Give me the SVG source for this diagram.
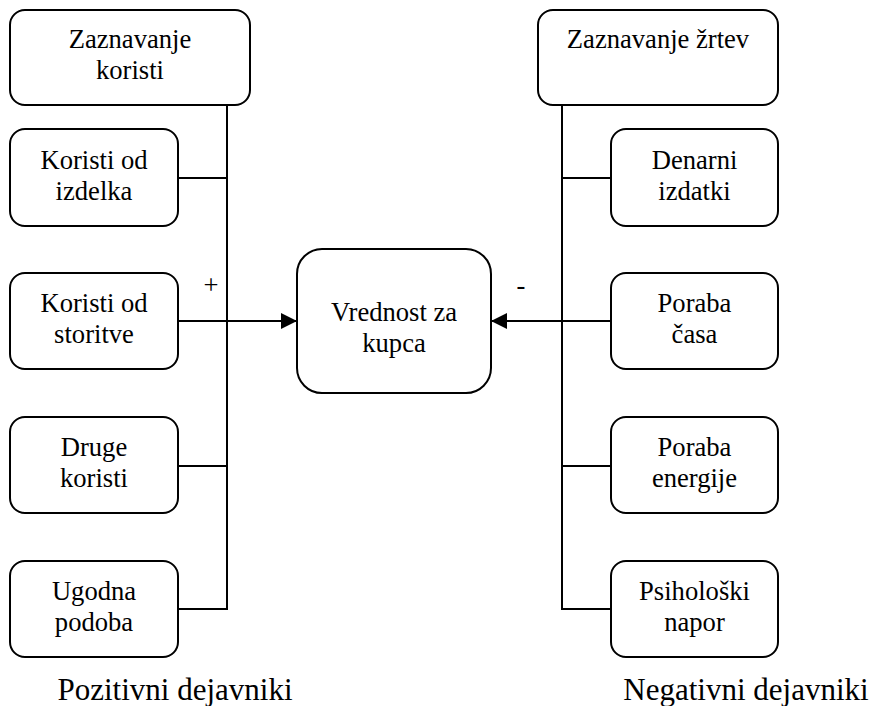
<svg xmlns="http://www.w3.org/2000/svg" width="880" height="706" viewBox="0 0 880 706">
<defs>
<style>
.box{fill:#fff;stroke:#000;stroke-width:2}
.t{font-family:'Liberation Serif','Times New Roman','DejaVu Serif',serif;font-size:26.6px;fill:#000;text-anchor:middle}
.lbl{font-family:'Liberation Serif','Times New Roman','DejaVu Serif',serif;font-size:31px;fill:#000;text-anchor:middle}
.ln{fill:none;stroke:#000;stroke-width:2}
</style>
<marker id="ah" markerWidth="16" markerHeight="16" viewBox="0 0 16 16" refX="16" refY="8" orient="auto" markerUnits="userSpaceOnUse">
<path d="M0,0 L16,8 L0,16 Z" fill="#000"/>
</marker>
</defs>
<rect width="880" height="706" fill="#fff"/>
<g id="connectors">
<path class="ln" d="M227,105 V609 H178"/>
<path class="ln" d="M178,178 H227"/>
<path class="ln" d="M178,466 H227"/>
<path class="ln" d="M178,321 H297" marker-end="url(#ah)"/>
<path class="ln" d="M562,105 V609 H611"/>
<path class="ln" d="M562,178 H611"/>
<path class="ln" d="M562,466 H611"/>
<path class="ln" d="M611,321 H491" marker-end="url(#ah)"/>
<text class="t" x="211" y="294" font-family="Liberation Serif, serif">+</text>
<text class="t" x="521" y="294" font-family="Liberation Serif, serif">-</text>
</g>
<g id="zaznavanje-koristi" font-family="Liberation Serif, serif">
<rect class="box" x="10" y="10" width="240" height="95" rx="15"/>
<text class="t" x="130" y="48">Zaznavanje</text>
<text class="t" x="130" y="79">koristi</text>
</g>
<g id="koristi-izdelka">
<rect class="box" x="10" y="129" width="168" height="97" rx="15"/>
<text class="t" x="94" y="168.5">Koristi od</text>
<text class="t" x="94" y="199.5">izdelka</text>
</g>
<g id="koristi-storitve">
<rect class="box" x="10" y="273" width="168" height="96" rx="15"/>
<text class="t" x="94" y="312">Koristi od</text>
<text class="t" x="94" y="343">storitve</text>
</g>
<g id="druge-koristi">
<rect class="box" x="10" y="417" width="168" height="96" rx="15"/>
<text class="t" x="94" y="456">Druge</text>
<text class="t" x="94" y="487">koristi</text>
</g>
<g id="ugodna-podoba">
<rect class="box" x="10" y="561" width="168" height="96" rx="15"/>
<text class="t" x="94" y="600">Ugodna</text>
<text class="t" x="94" y="631">podoba</text>
</g>
<g id="vrednost">
<rect class="box" x="297" y="249" width="194" height="144" rx="25"/>
<text class="t" x="394" y="321">Vrednost za</text>
<text class="t" x="394" y="352">kupca</text>
</g>
<g id="zaznavanje-zrtev">
<rect class="box" x="538" y="10" width="240" height="95" rx="15"/>
<text class="t" x="658" y="48">Zaznavanje žrtev</text>
</g>
<g id="denarni-izdatki">
<rect class="box" x="611" y="129" width="167" height="97" rx="15"/>
<text class="t" x="694.5" y="168.5">Denarni</text>
<text class="t" x="694.5" y="199.5">izdatki</text>
</g>
<g id="poraba-casa">
<rect class="box" x="611" y="273" width="167" height="96" rx="15"/>
<text class="t" x="694.5" y="312">Poraba</text>
<text class="t" x="694.5" y="343">časa</text>
</g>
<g id="poraba-energije">
<rect class="box" x="611" y="417" width="167" height="96" rx="15"/>
<text class="t" x="694.5" y="456">Poraba</text>
<text class="t" x="694.5" y="487">energije</text>
</g>
<g id="psiholoski-napor">
<rect class="box" x="611" y="561" width="167" height="96" rx="15"/>
<text class="t" x="694.5" y="600">Psihološki</text>
<text class="t" x="694.5" y="631">napor</text>
</g>
<g id="labels">
<text class="lbl" x="175" y="700">Pozitivni dejavniki</text>
<text class="lbl" x="746" y="700">Negativni dejavniki</text>
</g>
</svg>
